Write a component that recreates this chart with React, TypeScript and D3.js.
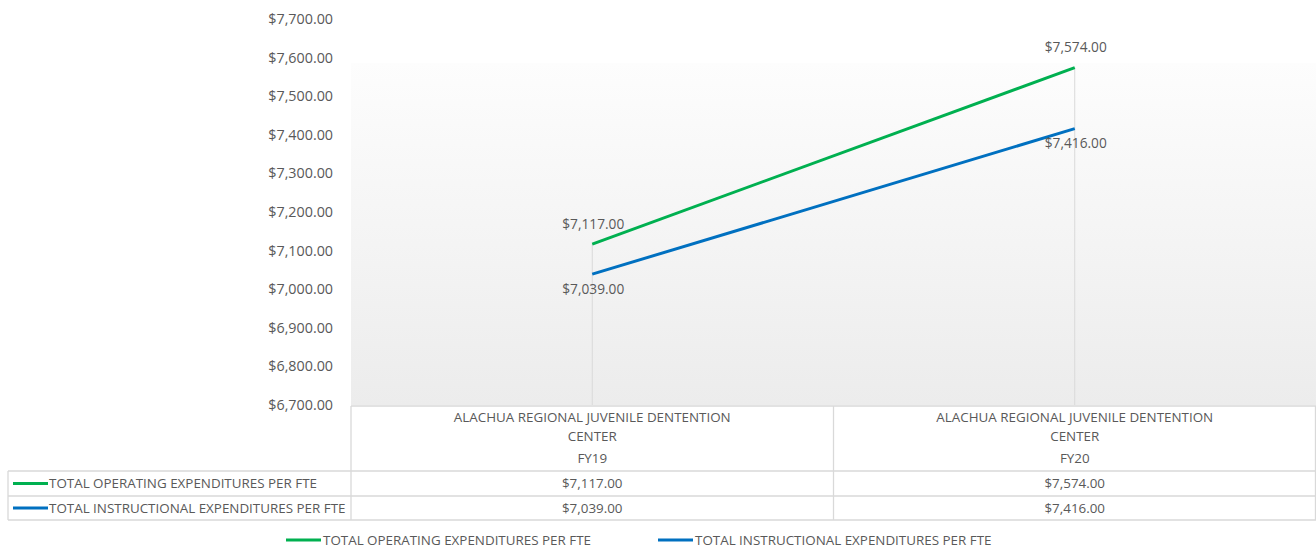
import React, { useEffect, useRef } from 'react';
import * as d3 from 'd3';

const categories = ['FY19', 'FY20'];
const centerName = ['ALACHUA REGIONAL JUVENILE DENTENTION', 'CENTER'];
const seriesNames = [
  'TOTAL OPERATING EXPENDITURES PER FTE',
  'TOTAL INSTRUCTIONAL EXPENDITURES PER FTE',
];
const operating = [7117, 7574];
const instructional = [7039, 7416];
const seriesColors = ['#00b050', '#0070c0'];
const yTicks = [6700, 6800, 6900, 7000, 7100, 7200, 7300, 7400, 7500, 7600, 7700];

const W = 1316;
const H = 548;
const FONT = "'Open Sans', sans-serif";
const TXT = '#595959';
const GRID = '#d9d9d9';
const TICK_FS = 14.3;
const LABEL_FS = 13.7;
const TABLE_FS = 13.4;

const App: React.FC = () => {
  const ref = useRef<SVGSVGElement>(null);

  useEffect(() => {
    if (!ref.current) return;
    const svg = d3.select(ref.current);
    svg.selectAll('*').remove();

    const plotLeft = 351;
    const plotRight = W;
    const plotTop = 19;
    const plotBottom = 405;

    const y = d3.scaleLinear().domain([6700, 7700]).range([plotBottom, plotTop]);
    const x = d3.scaleBand().domain(categories).range([plotLeft, plotRight]).padding(0);
    const cx = (c: string) => (x(c) as number) + x.bandwidth() / 2;
    const fmt = d3.format('$,.2f');

    // gradient fill of plot area
    const defs = svg.append('defs');
    const grad = defs
      .append('linearGradient')
      .attr('id', 'plotGrad')
      .attr('x1', 0)
      .attr('y1', 0)
      .attr('x2', 0)
      .attr('y2', 1);
    grad.append('stop').attr('offset', '0%').attr('stop-color', '#fdfdfd');
    grad.append('stop').attr('offset', '100%').attr('stop-color', '#ececec');

    svg
      .append('rect')
      .attr('x', plotLeft)
      .attr('y', 63)
      .attr('width', plotRight - plotLeft)
      .attr('height', plotBottom - 63)
      .attr('fill', 'url(#plotGrad)');

    // y axis labels
    svg
      .append('g')
      .attr('font-family', FONT)
      .attr('font-size', TICK_FS)
      .attr('fill', TXT)
      .attr('text-anchor', 'end')
      .selectAll('text')
      .data(yTicks)
      .join('text')
      .attr('x', 333)
      .attr('y', (d) => y(d))
      .attr('dy', '0.35em')
      .text((d) => fmt(d));

    // drop lines
    svg
      .append('g')
      .selectAll('line')
      .data(categories)
      .join('line')
      .attr('x1', (d) => cx(d))
      .attr('x2', (d) => cx(d))
      .attr('y1', (d, i) => y(Math.max(operating[i], instructional[i])))
      .attr('y2', plotBottom)
      .attr('stroke', GRID)
      .attr('stroke-width', 1);

    const allSeries = [operating, instructional];
    const line = d3
      .line<number>()
      .x((d, i) => cx(categories[i]))
      .y((d) => y(d));

    allSeries.forEach((vals, s) => {
      svg
        .append('path')
        .attr('d', line(vals))
        .attr('fill', 'none')
        .attr('stroke', seriesColors[s])
        .attr('stroke-width', 3);

      svg
        .append('g')
        .attr('font-family', FONT)
        .attr('font-size', LABEL_FS)
        .attr('fill', TXT)
        .attr('text-anchor', 'middle')
        .selectAll('text')
        .data(vals)
        .join('text')
        .attr('x', (d, i) => cx(categories[i]) + 1)
        .attr('y', (d) => (s === 0 ? y(d) - 20 : y(d) + 15))
        .attr('dy', '0.35em')
        .text((d) => fmt(d));
    });

    // data table
    const tLeft = 8;
    const rows = [406, 471, 496, 520];
    const tbl = svg.append('g').attr('stroke', GRID).attr('stroke-width', 1.3);
    tbl
      .append('line')
      .attr('x1', plotLeft)
      .attr('x2', plotRight)
      .attr('y1', rows[0])
      .attr('y2', rows[0]);
    rows.slice(1).forEach((ry) => {
      tbl.append('line').attr('x1', tLeft).attr('x2', plotRight).attr('y1', ry).attr('y2', ry);
    });
    tbl
      .append('line')
      .attr('x1', tLeft)
      .attr('x2', tLeft)
      .attr('y1', rows[1])
      .attr('y2', rows[3]);
    [plotLeft, cx(categories[0]) + x.bandwidth() / 2, plotRight - 0.5].forEach((vx) => {
      tbl
        .append('line')
        .attr('x1', vx)
        .attr('x2', vx)
        .attr('y1', rows[0])
        .attr('y2', rows[3]);
    });

    const tt = svg
      .append('g')
      .attr('font-family', FONT)
      .attr('font-size', TABLE_FS)
      .attr('fill', TXT)
      .attr('text-anchor', 'middle');
    categories.forEach((c) => {
      tt.append('text').attr('x', cx(c)).attr('y', 417).attr('dy', '0.35em').text(centerName[0]);
      tt.append('text').attr('x', cx(c)).attr('y', 436).attr('dy', '0.35em').text(centerName[1]);
      tt.append('text').attr('x', cx(c)).attr('y', 458).attr('dy', '0.35em').text(c);
    });
    allSeries.forEach((vals, s) => {
      const ry = (rows[s + 1] + rows[s + 2]) / 2;
      vals.forEach((v, i) => {
        tt.append('text').attr('x', cx(categories[i])).attr('y', ry).attr('dy', '0.35em').text(fmt(v));
      });
      svg
        .append('line')
        .attr('x1', 13)
        .attr('x2', 48)
        .attr('y1', ry)
        .attr('y2', ry)
        .attr('stroke', seriesColors[s])
        .attr('stroke-width', 3);
      svg
        .append('text')
        .attr('x', 49)
        .attr('y', ry)
        .attr('dy', '0.35em')
        .attr('font-family', FONT)
        .attr('font-size', TABLE_FS)
        .attr('fill', TXT)
        .text(seriesNames[s]);
    });

    // legend
    const legendX = [286, 658];
    seriesNames.forEach((name, s) => {
      const g = svg.append('g').attr('transform', `translate(${legendX[s]},540)`);
      g.append('line')
        .attr('x1', 0)
        .attr('x2', 35)
        .attr('stroke', seriesColors[s])
        .attr('stroke-width', 3);
      g.append('text')
        .attr('x', 37)
        .attr('dy', '0.35em')
        .attr('font-family', FONT)
        .attr('font-size', TABLE_FS)
        .attr('fill', TXT)
        .text(name);
    });
  }, []);

  return (
    <svg
      ref={ref}
      width={W}
      height={H}
      style={{ position: 'absolute', left: 0, top: 0, background: '#fff' }}
    />
  );
};

export default App;
